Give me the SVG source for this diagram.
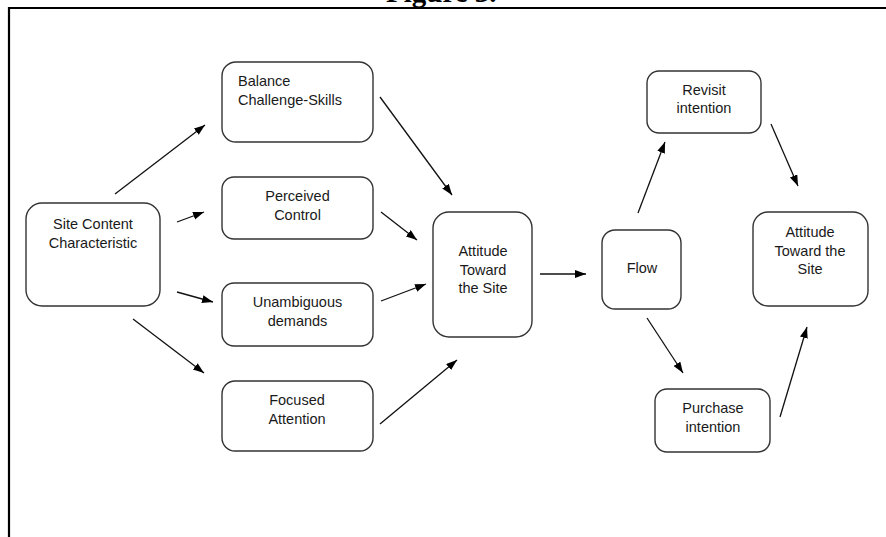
<svg xmlns="http://www.w3.org/2000/svg" width="886" height="537" viewBox="0 0 886 537">
<style>
.box{fill:#fff;stroke:#333;stroke-width:1.4}
.t{font-family:"Liberation Sans",Arial,sans-serif;font-size:14.5px;fill:#1a1a1a;text-anchor:middle}
.tl{text-anchor:start}
.c{stroke:#111;stroke-width:1.3;fill:none;marker-end:url(#ah)}
.frame{stroke:#000;stroke-width:2.2;fill:none}
.title{font-family:"Liberation Serif","Times New Roman",serif;font-weight:bold;font-size:29px;fill:#000}
</style>
<defs>
<marker id="ah" markerUnits="userSpaceOnUse" markerWidth="12" markerHeight="9" refX="11" refY="4" orient="auto">
<path d="M0,0 L11,4 L0,8 z" fill="#000"/>
</marker>
</defs>
<rect width="886" height="537" fill="#fff"/>
<text class="title" x="386" y="1.5">Figure 3.</text>
<path class="frame" d="M9,537 L9,8 L886,8"/>

<g id="n-site"><rect class="box" x="26" y="203" width="134" height="103" rx="16"/>
<text class="t" x="93" y="229">Site Content</text><text class="t" x="93" y="247.5">Characteristic</text></g>
<g id="n-balance"><rect class="box" x="222" y="62" width="151" height="80" rx="14"/>
<text class="t tl" x="238" y="86">Balance</text><text class="t tl" x="238" y="105">Challenge-Skills</text></g>
<g id="n-control"><rect class="box" x="222" y="177" width="151" height="62" rx="12"/>
<text class="t" x="297.5" y="201">Perceived</text><text class="t" x="297.5" y="220">Control</text></g>
<g id="n-unamb"><rect class="box" x="222" y="283" width="151" height="63" rx="12"/>
<text class="t" x="297.5" y="307">Unambiguous</text><text class="t" x="297.5" y="326">demands</text></g>
<g id="n-focus"><rect class="box" x="222" y="381" width="151" height="70" rx="13"/>
<text class="t" x="297" y="405">Focused</text><text class="t" x="297" y="424">Attention</text></g>
<g id="n-att1"><rect class="box" x="433" y="212" width="99" height="125" rx="16"/>
<text class="t" x="483" y="256">Attitude</text><text class="t" x="483" y="275">Toward</text><text class="t" x="483" y="293">the Site</text></g>
<g id="n-flow"><rect class="box" x="602" y="230" width="79" height="79" rx="13"/>
<text class="t" x="642" y="273">Flow</text></g>
<g id="n-revisit"><rect class="box" x="647" y="71" width="114" height="62" rx="12"/>
<text class="t" x="704" y="95">Revisit</text><text class="t" x="704" y="113">intention</text></g>
<g id="n-att2"><rect class="box" x="753" y="212" width="115" height="94" rx="15"/>
<text class="t" x="810" y="237">Attitude</text><text class="t" x="810" y="256">Toward the</text><text class="t" x="810" y="274">Site</text></g>
<g id="n-purchase"><rect class="box" x="655" y="389" width="115" height="63" rx="12"/>
<text class="t" x="713" y="413">Purchase</text><text class="t" x="713" y="432">intention</text></g>

<g id="connectors">
<line class="c" x1="115" y1="194" x2="205" y2="125"/>
<line class="c" x1="177" y1="222" x2="204" y2="212"/>
<line class="c" x1="177" y1="292" x2="213" y2="302"/>
<line class="c" x1="133" y1="319" x2="204" y2="373"/>
<line class="c" x1="380" y1="97" x2="452" y2="195"/>
<line class="c" x1="381" y1="212" x2="417" y2="240"/>
<line class="c" x1="381" y1="301" x2="426" y2="284"/>
<line class="c" x1="380" y1="424" x2="457" y2="360"/>
<line class="c" x1="540" y1="274" x2="586" y2="274"/>
<line class="c" x1="638" y1="213" x2="665" y2="142"/>
<line class="c" x1="771" y1="124" x2="798" y2="186"/>
<line class="c" x1="647" y1="318" x2="683" y2="373"/>
<line class="c" x1="780" y1="417" x2="807" y2="327"/>
</g>
</svg>
